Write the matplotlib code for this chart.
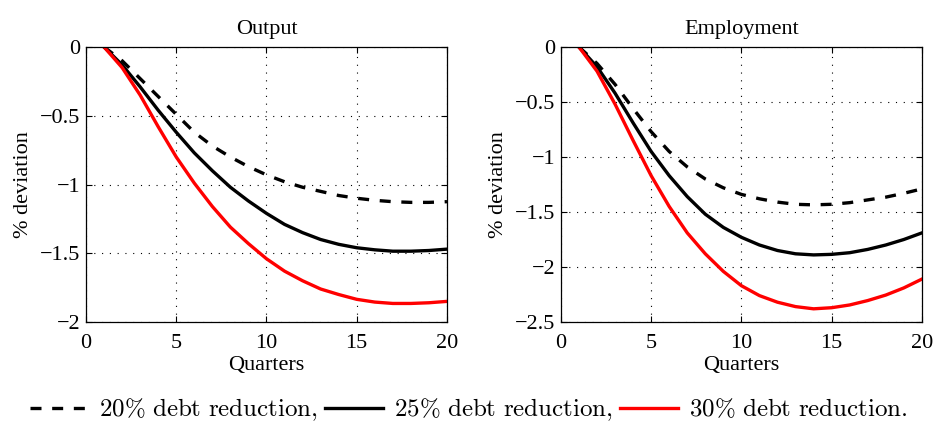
import matplotlib
matplotlib.use("Agg")
import matplotlib.pyplot as plt

plt.rcParams["font.family"] = ["Liberation Serif", "DejaVu Serif"]
plt.rcParams["mathtext.fontset"] = "cm"
plt.rcParams["axes.unicode_minus"] = True

quarters = list(range(1, 21))

# Output responses (% deviation)
output_20 = [0, -0.10, -0.23, -0.36, -0.49, -0.62, -0.72, -0.80, -0.87, -0.93,
             -0.98, -1.02, -1.05, -1.08, -1.10, -1.115, -1.125, -1.13, -1.13, -1.125]
output_25 = [0, -0.13, -0.29, -0.46, -0.62, -0.77, -0.90, -1.02, -1.12, -1.21,
             -1.29, -1.35, -1.40, -1.435, -1.46, -1.475, -1.485, -1.485, -1.48, -1.47]
output_30 = [0, -0.15, -0.35, -0.58, -0.80, -0.99, -1.16, -1.31, -1.43, -1.54,
             -1.63, -1.70, -1.76, -1.80, -1.835, -1.855, -1.865, -1.865, -1.86, -1.85]

# Employment responses (% deviation)
employ_20 = [0, -0.15, -0.34, -0.56, -0.77, -0.95, -1.09, -1.20, -1.28, -1.34,
             -1.38, -1.41, -1.43, -1.435, -1.43, -1.415, -1.39, -1.365, -1.33, -1.29]
employ_25 = [0, -0.18, -0.42, -0.69, -0.95, -1.17, -1.36, -1.52, -1.64, -1.73,
             -1.80, -1.85, -1.88, -1.89, -1.885, -1.87, -1.84, -1.80, -1.75, -1.69]
employ_30 = [0, -0.22, -0.52, -0.85, -1.17, -1.45, -1.69, -1.88, -2.04, -2.17,
             -2.26, -2.32, -2.36, -2.38, -2.37, -2.345, -2.305, -2.255, -2.19, -2.11]

labels = [r"$\mathrm{20\%\ debt\ reduction,}$",
          r"$\mathrm{25\%\ debt\ reduction,}$",
          r"$\mathrm{30\%\ debt\ reduction.}$"]

x_ticks = [0, 5, 10, 15, 20]
out_yticks = [0, -0.5, -1, -1.5, -2]
emp_yticks = [0, -0.5, -1, -1.5, -2, -2.5]

fig = plt.figure(figsize=(9.38, 4.26), dpi=100)
ax1 = fig.add_axes([0.0917, 0.2441, 0.3848, 0.6456])
ax2 = fig.add_axes([0.598, 0.2441, 0.3848, 0.6456])

lw = 2.4
dash = (0, (3.3, 3.2))


def fmt(v):
    return ("%g" % v).replace("-", "\u2212")


def draw_panel(ax, s20, s25, s30, title, yticks, ylim):
    h1, = ax.plot(quarters, s20, color="black", lw=lw, ls=dash)
    h2, = ax.plot(quarters, s25, color="black", lw=lw)
    h3, = ax.plot(quarters, s30, color="red", lw=lw)
    ax.set_xlim(0, 20)
    ax.set_ylim(ylim, 0)
    ax.set_xticks(x_ticks)
    ax.set_xticklabels([fmt(v) for v in x_ticks])
    ax.set_yticks(yticks)
    ax.set_yticklabels([fmt(v) for v in yticks])
    ax.grid(True, color="black", ls=(0, (1, 6)), lw=0.8)
    ax.tick_params(direction="in", top=True, right=True, labelsize=16,
                   length=4, width=0.8)
    ax.tick_params(axis="x", pad=8.5)
    ax.tick_params(axis="y", pad=4)
    for sp in ax.spines.values():
        sp.set_linewidth(0.9)
    ax.set_title(title, fontsize=16, pad=9)
    ax.set_xlabel("Quarters", fontsize=16, labelpad=2)
    ax.set_ylabel("% deviation", fontsize=16, labelpad=5)
    return [h1, h2, h3]


handles = draw_panel(ax1, output_20, output_25, output_30, "Output", out_yticks, -2)
draw_panel(ax2, employ_20, employ_25, employ_30, "Employment", emp_yticks, -2.5)

fig.legend(handles, labels, loc="center", bbox_to_anchor=(0.5, 0.038), ncol=3,
           frameon=False, fontsize=18, handlelength=2.3, handletextpad=0.45,
           columnspacing=0.3, borderaxespad=0, borderpad=0)

fig.savefig("out.png", dpi=100)
